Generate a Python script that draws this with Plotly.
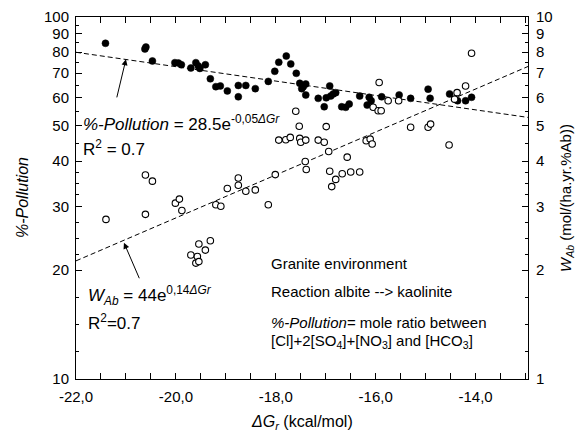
import numpy as np
import plotly.graph_objects as go

# ---- data ----
poll_dg = [-21.41, -20.62, -20.60, -20.47, -20.02, -19.95, -19.89, -19.70, -19.60, -19.55,
           -19.52, -19.41, -19.31, -19.20, -19.11, -18.97, -18.75, -18.75, -18.60, -18.41,
           -18.15, -18.02, -17.94, -17.79, -17.70, -17.59, -17.52, -17.45, -17.40, -17.48,
           -17.40, -17.15, -17.03, -16.99, -16.92, -16.90, -16.85, -16.80, -16.68, -16.60,
           -16.53, -16.32, -16.13, -16.09, -16.17, -15.88, -15.53, -15.30, -14.95, -14.91,
           -14.52, -14.36, -14.20, -14.08]
poll_pct = [84.6, 81.6, 82.6, 75.6, 74.8, 74.6, 73.8, 72.3, 74.8, 73.2,
            72.1, 73.8, 67.5, 64.2, 64.5, 62.5, 64.7, 60.2, 64.7, 63.4,
            66.4, 70.8, 75.0, 78.0, 74.2, 69.9, 65.6, 64.2, 65.3, 63.4,
            60.9, 59.6, 56.5, 59.8, 64.5, 60.5, 61.3, 61.8, 56.5, 56.3,
            57.5, 60.5, 60.0, 58.7, 57.1, 60.2, 60.9, 59.6, 63.2, 59.6,
            61.3, 58.7, 58.7, 60.0]

wab_dg = [-21.40, -20.61, -20.47, -20.61, -20.01, -19.93, -19.88, -19.70, -19.54, -19.41,
          -19.31, -19.57, -19.60, -19.54, -19.20, -19.10, -18.97, -18.75, -18.75, -18.60,
          -18.41, -18.15, -18.01, -17.94, -17.80, -17.71, -17.52, -17.50, -17.40, -17.60,
          -17.53, -16.99, -17.15, -17.03, -16.94, -16.57, -17.41, -17.39, -16.92, -16.80,
          -16.88, -16.67, -16.50, -16.32, -16.19, -16.11, -16.07, -15.93, -15.75, -15.54,
          -16.05, -15.95, -15.89, -15.30, -14.95, -14.90, -14.53, -14.08, -14.20, -14.37,
          -14.42]
wab_val = [2.76, 3.66, 3.52, 2.85, 3.06, 3.14, 2.92, 2.20, 2.36, 2.27,
           2.41, 2.18, 2.09, 2.11, 3.03, 3.00, 3.36, 3.59, 3.43, 3.30,
           3.33, 3.03, 3.67, 4.57, 4.58, 4.65, 4.62, 4.51, 4.57, 5.49,
           4.99, 4.98, 4.57, 4.51, 4.25, 4.10, 3.99, 3.79, 3.75, 3.56,
           3.40, 3.69, 3.73, 3.73, 4.55, 4.60, 4.46, 6.59, 5.87, 5.87,
           5.63, 5.51, 5.51, 4.96, 4.96, 5.06, 4.43, 7.94, 6.45, 6.18,
           5.93]

fit_dg = [-22.0, -12.95]
poll_fit = [79.9, 52.8]
wab_fit = [2.12, 7.3]

x_tickvals = [-22, -21, -20, -19, -18, -17, -16, -15, -14, -13]
x_ticktext = ['-22,0', '', '-20,0', '', '-18,0', '', '-16,0', '', '-14,0', '']
left_tickvals = [10, 20, 30, 40, 50, 60, 70, 80, 90, 100]
right_tickvals = [1, 2, 3, 4, 5, 6, 7, 8, 9, 10]

FONT = "Liberation Sans, Arial, sans-serif"

# minor ticks evenly spaced on screen between majors
def minors(vals, n_by_interval):
    out = []
    for (a, b), n in zip(zip(vals[:-1], vals[1:]), n_by_interval):
        la, lb = np.log10(a), np.log10(b)
        for k in range(1, n + 1):
            out.append(10 ** (la + (lb - la) * k / (n + 1)))
    return out

left_minor = minors(left_tickvals, [3, 3, 3, 1, 1, 1, 1, 1, 1])
right_minor = minors(right_tickvals, [3, 3, 3, 1, 1, 1, 1, 1, 1])

fig = go.Figure()

fig.add_trace(go.Scatter(x=fit_dg, y=poll_fit, mode='lines',
                         line=dict(color='black', width=1, dash='5px,3px'),
                         yaxis='y', showlegend=False, hoverinfo='skip'))
fig.add_trace(go.Scatter(x=fit_dg, y=wab_fit, mode='lines',
                         line=dict(color='black', width=1, dash='5px,3px'),
                         yaxis='y2', showlegend=False, hoverinfo='skip'))
fig.add_trace(go.Scatter(x=poll_dg, y=poll_pct, mode='markers',
                         marker=dict(symbol='circle', size=7, color='black',
                                     line=dict(color='black', width=0.5)),
                         yaxis='y', showlegend=False))
fig.add_trace(go.Scatter(x=wab_dg, y=wab_val, mode='markers',
                         marker=dict(symbol='circle', size=6.5, color='white',
                                     line=dict(color='black', width=1.1)),
                         yaxis='y2', showlegend=False))

axis_common = dict(showline=True, linecolor='black', linewidth=1, ticks='inside',
                   tickcolor='black', ticklen=6, showgrid=False, zeroline=False,
                   automargin=False,
                   tickfont=dict(family=FONT, size=15, color='black'))

fig.update_layout(
    width=588, height=434,
    margin=dict(l=76, r=60, t=17, b=55),
    paper_bgcolor='white', plot_bgcolor='white',
    font=dict(family=FONT, color='black'),
    xaxis=dict(range=[-22, -12.95], tickmode='array', tickvals=x_tickvals,
               ticktext=x_ticktext, mirror='allticks', ticklabelstandoff=4,
               minor=dict(dtick=0.5, ticks='inside', ticklen=3, tickcolor='black', showgrid=False),
               **axis_common),
    yaxis=dict(type='log', range=[1, 2], tickmode='array', tickvals=left_tickvals,
               ticktext=[str(v) for v in left_tickvals], ticklabelstandoff=3,
               minor=dict(tickmode='array', tickvals=left_minor, ticks='inside', ticklen=3,
                          tickcolor='black', showgrid=False),
               **axis_common),
    yaxis2=dict(type='log', range=[0, 1], overlaying='y', side='right', tickmode='array',
                tickvals=right_tickvals, ticktext=[str(v) for v in right_tickvals],
                ticklabelstandoff=4,
                minor=dict(tickmode='array', tickvals=right_minor, ticks='inside', ticklen=3,
                           tickcolor='black', showgrid=False),
                **axis_common),
)

ann = []
def text(x, y, s, size, xanchor='left', xref='x', yref='y', angle=0):
    ann.append(dict(x=x, y=y, xref=xref, yref=yref, text=s, showarrow=False,
                    xanchor=xanchor, yanchor='middle', textangle=angle,
                    font=dict(family=FONT, size=size, color='black')))

# equations (positions in axis coords)
text(-21.9, np.log10(51.0), "<i>%-Pollution</i> = 28.5e<sup>-0,05<i>ΔGr</i></sup>", 17)
text(-21.9, np.log10(43.6), "R<sup>2</sup> = 0.7", 17)
text(-21.8, np.log10(17.0), "<i>W<sub>Ab</sub></i> = 44e<sup>0,14<i>ΔGr</i></sup>", 17)
text(-21.8, np.log10(14.4), "R<sup>2</sup>=0.7", 17)
text(-18.14, np.log10(20.9), "Granite environment", 15)
text(-18.14, np.log10(17.5), "Reaction albite --> kaolinite", 15)
text(-18.14, np.log10(14.3), "<i>%-Pollution</i>= mole ratio between", 15)
text(-18.14, np.log10(12.7), "[Cl]+2[SO<sub>4</sub>]+[NO<sub>3</sub>] and [HCO<sub>3</sub>]", 15)

# axis titles
text((22 - 76) / 452, 0.5, "<i>%-Pollution</i>", 16, xanchor='center', xref='paper',
     yref='paper', angle=-90)
text((302 - 76) / 452, -(423 - 379) / 362, "<i>ΔG<sub>r</sub></i> (kcal/mol)", 16,
     xanchor='center', xref='paper', yref='paper')
text((566 - 76) / 452, 0.5, "<i>W<sub>Ab</sub></i> (mol/(ha.yr.%Ab))", 15,
     xanchor='center', xref='paper', yref='paper', angle=-90)

# arrows
ann.append(dict(x=-21.0, y=np.log10(76.4), ax=-21.19, ay=np.log10(59.4), xref='x', yref='y',
                axref='x', ayref='y', showarrow=True, arrowhead=2, arrowsize=1.2,
                arrowwidth=1, arrowcolor='black', text=''))
ann.append(dict(x=-21.04, y=np.log10(23.8), ax=-20.72, ay=np.log10(18.8), xref='x', yref='y',
                axref='x', ayref='y', showarrow=True, arrowhead=2, arrowsize=1.2,
                arrowwidth=1, arrowcolor='black', text=''))

fig.update_layout(annotations=ann)
fig.write_html("out.html", config={'displayModeBar': False},
               post_script="document.body.style.margin='0';document.body.style.padding='0';")
